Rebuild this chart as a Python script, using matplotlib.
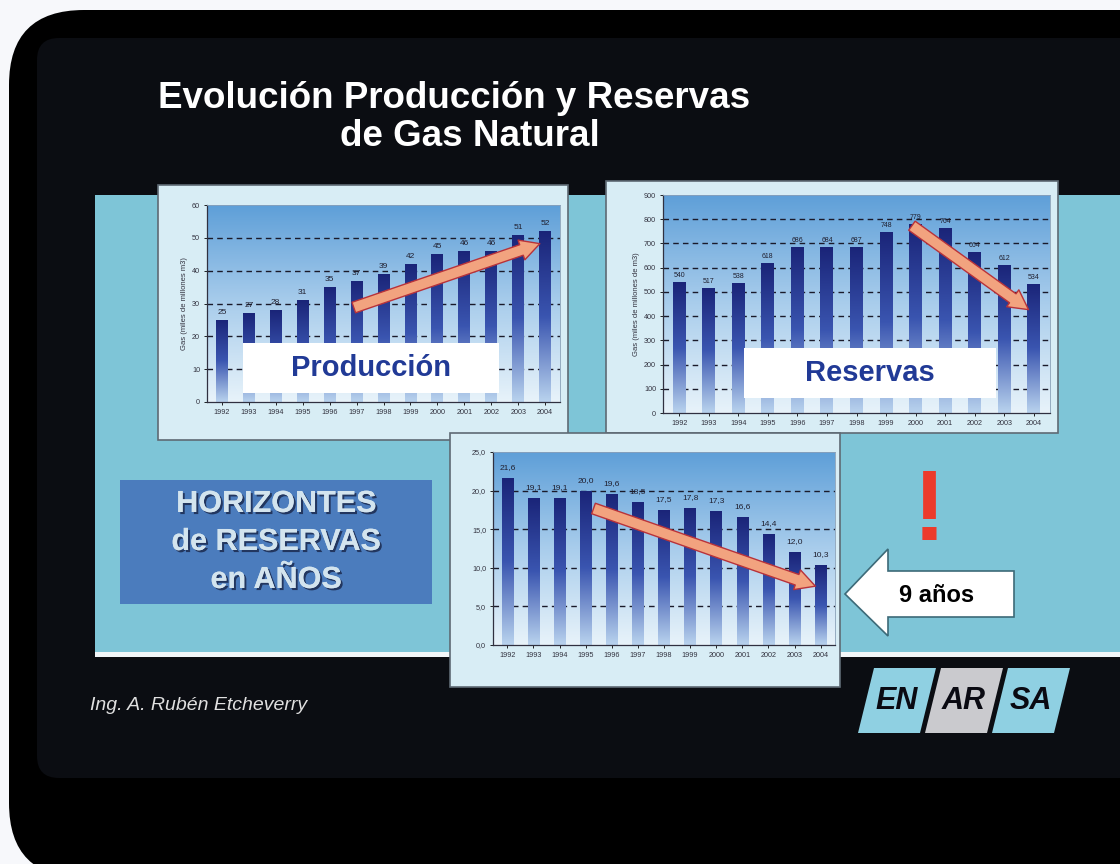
import numpy as np
import matplotlib
matplotlib.use("Agg")
import matplotlib.pyplot as plt
from matplotlib.patches import FancyBboxPatch, Rectangle, Polygon
from matplotlib.colors import LinearSegmentedColormap
import matplotlib.patheffects as pe

plt.rcParams['font.family'] = ['Liberation Sans', 'DejaVu Sans']

years = [str(y) for y in range(1992, 2005)]
produccion = [25, 27, 28, 31, 35, 37, 39, 42, 45, 46, 46, 51, 52]
produccion_labels = ['25', '27', '28', '31', '35', '37', '39', '42', '45', '46', '46', '51', '52']
reservas = [540, 517, 538, 618, 686, 684, 687, 748, 779, 764, 664, 612, 534]
reservas_labels = ['540', '517', '538', '618', '686', '684', '687', '748', '779', '764', '664', '612', '534']
horizontes = [21.6, 19.1, 19.1, 20.0, 19.6, 18.5, 17.5, 17.8, 17.3, 16.6, 14.4, 12.0, 10.3]
horizontes_labels = ['21,6', '19,1', '19,1', '20,0', '19,6', '18,5', '17,5', '17,8', '17,3', '16,6', '14,4', '12,0', '10,3']

W, H = 1120, 864
fig = plt.figure(figsize=(11.2, 8.64), dpi=100)
fig.patch.set_facecolor('#f7f8fb')

bg = fig.add_axes([0, 0, 1, 1])
bg.set_xlim(0, W); bg.set_ylim(H, 0); bg.axis('off')

# outer black rounded frame
bg.add_patch(FancyBboxPatch((9, 10), 1300, 868, boxstyle='round,pad=0,rounding_size=75',
                            fc='#000000', ec='none'))
# inner dark slide
bg.add_patch(FancyBboxPatch((37, 38), 1200, 740, boxstyle='round,pad=0,rounding_size=22',
                            fc='#0b0d12', ec='none'))
# light-blue band with white bottom edge
bg.add_patch(Rectangle((95, 195), 1030, 462, fc='#f2f6f8', ec='none'))
bg.add_patch(Rectangle((95, 195), 1030, 457, fc='#7ec5d7', ec='none'))

# title
bg.text(454, 98, 'Evolución Producción y Reservas', color='white', fontsize=26.5,
        fontweight='bold', ha='center', va='center')
bg.text(470, 136, 'de Gas Natural', color='white', fontsize=26.5,
        fontweight='bold', ha='center', va='center')

# chart panels
for (x, y, w, h) in [(158, 185, 410, 255), (606, 181, 452, 252), (450, 433, 390, 254)]:
    bg.add_patch(Rectangle((x, y), w, h, fc='#d8edf5', ec='#5e6a74', lw=1.2))

# HORIZONTES box
bg.add_patch(Rectangle((120, 480), 312, 124, fc='#4b7cbd', ec='none'))
shadow = [pe.withSimplePatchShadow(offset=(1.5, -1.5), shadow_rgbFace='#1e2f55', alpha=0.9), pe.Normal()]
for txt, yy in [('HORIZONTES', 504), ('de RESERVAS', 542), ('en AÑOS', 580)]:
    bg.text(276, yy, txt, color='#d3e4ee', fontsize=22, fontweight='bold',
            ha='center', va='center', path_effects=shadow)

# red exclamation
bg.text(929, 514, '!', color='#ec3b2b', fontsize=72, fontweight='bold', ha='center', va='center')

# white arrow "9 años"
arrow_pts = [(845, 594), (888, 549), (888, 571), (1014, 571), (1014, 617), (888, 617), (888, 636)]
bg.add_patch(Polygon(arrow_pts, closed=True, fc='white', ec='#3d6a78', lw=1.2))
bg.text(937, 595, '9 años', color='black', fontsize=17, fontweight='bold', ha='center', va='center')

# author
bg.text(90, 705, 'Ing. A. Rubén Etcheverry', color='#e0e0e0', fontsize=14, style='italic',
        ha='left', va='center')

# ENARSA logo
logo = [('EN', '#8fd0e2', 858), ('AR', '#cacace', 925), ('SA', '#8fd0e2', 992)]
for txt, col, x0 in logo:
    pts = [(x0, 733), (x0 + 16, 668), (x0 + 78, 668), (x0 + 62, 733)]
    bg.add_patch(Polygon(pts, closed=True, fc=col, ec='none'))
    bg.text(x0 + 39, 701, txt, color='#0a0a12', fontsize=22, fontweight='bold', style='italic',
            ha='center', va='center')

bar_cmap = LinearSegmentedColormap.from_list('bar', ['#1a2478', '#3a55b0', '#b9d3ee'])
bgd_cmap = LinearSegmentedColormap.from_list('bgd', ['#5e9fd8', '#a9cdec', '#e8f3fa'])


def px_axes(l, t, r, b):
    return fig.add_axes([l / W, 1 - b / H, (r - l) / W, (b - t) / H])


def draw_chart(ax, values, labels, ymax, step, tickfmt, ylabel, lab_fs, label_off):
    x = np.arange(len(values))
    ax.set_xlim(-0.55, len(values) - 0.45)
    ax.set_ylim(0, ymax)
    grad = np.linspace(0, 1, 256).reshape(-1, 1)
    ax.imshow(grad, extent=[0, 1, 0, 1], transform=ax.transAxes, cmap=bgd_cmap,
              aspect='auto', zorder=0)
    for yv in np.arange(step, ymax, step):
        ax.axhline(yv, color='#1a1a2a', lw=1.0, ls=(0, (4, 3)), zorder=1)
    bars = ax.bar(x, values, width=0.44, color='none', edgecolor='none', zorder=2)
    for rect, v in zip(bars, values):
        x0 = rect.get_x()
        im = ax.imshow(grad, extent=[x0, x0 + rect.get_width(), 0, v], cmap=bar_cmap,
                       aspect='auto', zorder=2)
        im.set_clip_path(rect)
    for xi, v, lab in zip(x, values, labels):
        ax.text(xi, v + label_off, lab, ha='center', va='bottom', fontsize=lab_fs,
                color='#202030', zorder=4)
    ax.set_xlim(-0.55, len(values) - 0.45)
    ax.set_ylim(0, ymax)
    ax.set_xticks(x)
    ax.set_xticklabels(years, fontsize=5.2, color='#333340')
    ticks = np.arange(0, ymax + step / 2, step)
    ax.set_yticks(ticks)
    ax.set_yticklabels([tickfmt(t) for t in ticks], fontsize=5.2, color='#333340')
    ax.tick_params(length=2, width=0.6, pad=3)
    for s in ['top', 'right']:
        ax.spines[s].set_color('#8aa0b8'); ax.spines[s].set_linewidth(0.6)
    for s in ['left', 'bottom']:
        ax.spines[s].set_color('#303040'); ax.spines[s].set_linewidth(0.9)
    if ylabel:
        ax.set_ylabel(ylabel, fontsize=5.5, color='#333340', labelpad=3)


arrow_style = 'simple,head_length=0.7,head_width=0.75,tail_width=0.4'
arrow_props = dict(arrowstyle=arrow_style, fc='#f2a37f', ec='#b8323a', lw=1.0, mutation_scale=20)

ax1 = px_axes(207, 205, 560, 402)
draw_chart(ax1, produccion, produccion_labels, 60, 10, lambda t: f'{int(t)}',
           'Gas (miles de millones m3)', 6, 1.2)
ax1.annotate('', xy=(11.9, 48.5), xytext=(4.8, 28.5), arrowprops=arrow_props, zorder=6)

ax2 = px_axes(663, 195, 1050, 413)
draw_chart(ax2, reservas, reservas_labels, 900, 100, lambda t: f'{int(t)}',
           'Gas (miles de millones de m3)', 5, 12)
ax2.annotate('', xy=(11.9, 420), xytext=(7.8, 780), arrowprops=arrow_props, zorder=6)

ax3 = px_axes(493, 452, 835, 645)
draw_chart(ax3, horizontes, horizontes_labels, 25, 5, lambda t: f'{t:.1f}'.replace('.', ','),
           None, 6, 0.9)
ax3.annotate('', xy=(11.9, 7.5), xytext=(3.2, 17.8), arrowprops=arrow_props, zorder=6)

# overlay text boxes on the charts
ov = fig.add_axes([0, 0, 1, 1], zorder=20)
ov.set_xlim(0, W); ov.set_ylim(H, 0); ov.axis('off'); ov.patch.set_alpha(0)
ov.add_patch(Rectangle((243, 343), 256, 50, fc='white', ec='none'))
ov.text(371, 368, 'Producción', color='#213a96', fontsize=21, fontweight='bold',
        ha='center', va='center')
ov.add_patch(Rectangle((744, 348), 252, 50, fc='white', ec='none'))
ov.text(870, 373, 'Reservas', color='#213a96', fontsize=21, fontweight='bold',
        ha='center', va='center')

fig.savefig('out.png', dpi=100, facecolor=fig.get_facecolor())
